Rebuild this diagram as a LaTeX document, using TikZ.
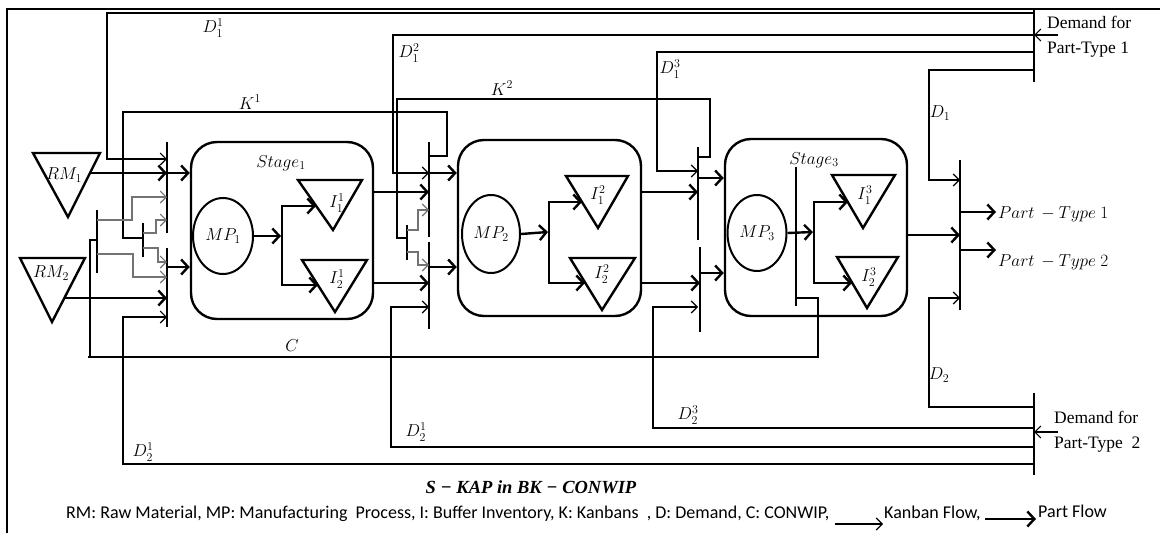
\documentclass[tikz,border=0pt]{standalone}
\usepackage{fontspec}
\setmainfont{Liberation Serif}
\newfontfamily\legfont{Carlito}
\usetikzlibrary{arrows.meta,shapes.geometric}
\begin{document}
\begin{tikzpicture}[x=1pt,y=-1pt,
  thin/.style={line width=1.1pt},
  kan/.style={line width=1.1pt,-{Straight Barb[length=6pt,width=12pt]}},
  kang/.style={kan,draw=black!55},
  part/.style={line width=2.4pt,-{Straight Barb[length=7pt,width=15pt]}},
  thickl/.style={line width=2.4pt},
  stagebox/.style={draw,line width=2.4pt,rounded corners=26pt,minimum width=182pt,minimum height=177pt,inner sep=0pt},
  mp/.style={draw,ellipse,line width=2pt,inner sep=0pt,font=\fontsize{18}{20}\selectfont},
  lab/.style={inner sep=0pt,font=\fontsize{18}{20}\selectfont},
  tri/.style={line width=2.4pt,line join=miter},
  dem/.style={inner sep=0pt,font=\fontsize{17.5}{25}\selectfont,align=left,anchor=west},
  legtext/.style={inner sep=0pt,anchor=west,font=\legfont\fontsize{18}{20}\selectfont}
]
\useasboundingbox (0,0) rectangle (1160,533);
\fill[white] (0,0) rectangle (1160,533);
\draw[line width=2pt] (7,545) -- (7,9) -- (1170,9);

% ---------- stage boxes ----------
\node[stagebox] (S1) at (282,230.5) {};
\node[stagebox,minimum width=183pt,minimum height=176pt] (S2) at (549.5,228) {};
\node[stagebox] (S3) at (816,227.5) {};
\node[lab] (S1lab) at (281,163) {$Stage_1$};
\node[lab] (S3lab) at (814,160) {$Stage_3$};

% ---------- MP ellipses ----------
\node[mp,minimum width=60pt,minimum height=76pt] (MP1) at (223,236) {$MP_1$};
\node[mp,minimum width=58pt,minimum height=78pt] (MP2) at (491,234) {$MP_2$};
\node[mp,minimum width=59pt,minimum height=76pt] (MP3) at (757,233) {$MP_3$};

% ---------- triangles ----------
\draw[tri] (33,153) -- (100,153) -- (68,217) -- cycle;
\node[lab] (RM1) at (64,175) {$RM_1$};
\draw[tri] (20,258) -- (85,258) -- (52,322) -- cycle;
\node[lab] (RM2) at (51,273) {$RM_2$};
\draw[tri] (298,180) -- (362,180) -- (333,230) -- cycle;
\node[lab] (I11) at (337,203) {$I_1^1$};
\draw[tri] (302,260) -- (367,260) -- (335,312) -- cycle;
\node[lab] (I21) at (337,279) {$I_2^1$};
\draw[tri] (566,176) -- (628,176) -- (598,228) -- cycle;
\node[lab] (I12) at (598,195) {$I_1^2$};
\draw[tri] (570,258) -- (635,258) -- (602,310) -- cycle;
\node[lab] (I22) at (602,274) {$I_2^2$};
\draw[tri] (832,175) -- (895,175) -- (863,228) -- cycle;
\node[lab] (I13) at (865,195) {$I_1^3$};
\draw[tri] (837,257) -- (898,257) -- (867,308) -- cycle;
\node[lab] (I23) at (869,277) {$I_2^3$};

% ---------- synchronisation bars ----------
\draw[thin] (167,142) -- (167,233);
\draw[thin] (167,248) -- (167,327);
\draw[thin] (429,142) -- (429,237);
\draw[thin] (429,242) -- (429,329);
\draw[thin] (698,147) -- (698,240);
\draw[thin] (700,247) -- (700,332);
\draw[thin] (960,160) -- (960,310);
\draw[thin] (1034,9) -- (1034,82);
\draw[thin] (1034,393) -- (1034,475);
\draw[thin] (796,167) -- (796,306);

% ---------- part flow ----------
\draw[part] (90,173) -- (167,173);
\draw[part] (64,298) -- (167,298);
\draw[part] (167,173) -- (S1.west |- 0,173);
\draw[part] (167,267) -- (S1.west |- 0,267);
\draw[part] (MP1.east) -- (281,236);
\draw[thickl] (282,206) -- (282,285);
\draw[part] (281,206) -- (316,206);
\draw[part] (281,285) -- (318,285);
\draw[part] (S1.east |- 0,192) -- (429,192);
\draw[part] (S1.east |- 0,283) -- (429,283);
\draw[part] (429,173) -- (S2.west |- 0,173);
\draw[part] (429,267) -- (S2.west |- 0,267);
\draw[part] (MP2.east) -- (548,232);
\draw[thickl] (549,202) -- (549,283);
\draw[part] (548,202) -- (582,202);
\draw[part] (548,283) -- (585,283);
\draw[part] (S2.east |- 0,192) -- (698,192);
\draw[part] (S2.east |- 0,283) -- (700,283);
\draw[part] (698,178) -- (S3.west |- 0,178);
\draw[part] (700,273) -- (S3.west |- 0,273);
\draw[part] (MP3.east) -- (813,232);
\draw[thickl] (814,202) -- (814,283);
\draw[part] (813,202) -- (848,202);
\draw[part] (813,283) -- (852,283);
\draw[part] (S3.east |- 0,235) -- (960,235);
\draw[part] (960,212) -- (996,212);
\draw[part] (960,250) -- (996,250);
\node[lab,anchor=west,font=\fontsize{17}{20}\selectfont] (PT1) at (998,214) {$Part\,-Type\ 1$};
\node[lab,anchor=west,font=\fontsize{17}{20}\selectfont] (PT2) at (998,262) {$Part\,-Type\ 2$};

% ---------- demand for part-type 1 ----------
\node[dem] (dem1) at (1047,37) {Demand for\\Part-Type 1};
\draw[kan] (1058,35) -- (1034,35);
\draw[kan] (1034,13) -- (107,13) -- (107,159) -- (167,159);
\draw[kan] (1034,35) -- (393,35) -- (393,173) -- (429,173);
\draw[kan] (1034,52) -- (657,52) -- (657,171) -- (698,171);
\draw[kan] (1034,70) -- (929,70) -- (929,180) -- (960,180);
\node[lab] (D11) at (213,28) {$D_1^1$};
\node[lab] (D12) at (409,53) {$D_1^2$};
\node[lab] (D13) at (670,69) {$D_1^3$};
\node[lab] (D1) at (940,113) {$D_1$};

% ---------- demand for part-type 2 ----------
\node[dem] (dem2) at (1054,432) {Demand for\\Part-Type\ \ 2};
\draw[kan] (1058,432) -- (1034,432);
\draw[kan] (1034,464) -- (123,464) -- (123,317) -- (167,317);
\draw[kan] (1034,447) -- (391,447) -- (391,307) -- (429,307);
\draw[kan] (1034,428) -- (653,428) -- (653,307) -- (698,307);
\draw[kan] (1034,407) -- (929,407) -- (929,298) -- (960,298);
\node[lab] (D21a) at (143,452) {$D_2^1$};
\node[lab] (D21b) at (416,432) {$D_2^1$};
\node[lab] (D23) at (688,415) {$D_2^3$};
\node[lab] (D2) at (939,375) {$D_2$};

% ---------- kanban K1 ----------
\draw[thin] (430,156) -- (447,156) -- (447,112) -- (123,112) -- (123,238) -- (143,238);
\draw[thin] (143,223) -- (143,257);
\draw[kang] (143,233) -- (156,233) -- (156,220) -- (167,220);
\draw[kang] (143,248) -- (158,248) -- (158,262) -- (167,262);
\node[lab] (K1) at (250,102) {$K^1$};

% ---------- kanban K2 ----------
\draw[thin] (698,157) -- (710,157) -- (710,99) -- (397,99) -- (397,238) -- (407,238);
\draw[thin] (407,225) -- (407,260);
\draw[kang] (407,230) -- (418,230) -- (418,210) -- (429,210);
\draw[kang] (407,252) -- (418,252) -- (418,265) -- (429,265);
\node[lab] (K2) at (502,88) {$K^2$};

% ---------- CONWIP ----------
\draw[thin] (796,298) -- (818,298) -- (818,357) -- (88,357);
\draw[thin] (90,357) -- (90,240) -- (97,240);
\draw[thin] (97,210) -- (97,273);
\draw[kang] (97,220) -- (132,220) -- (132,197) -- (167,197);
\draw[kang] (97,254) -- (133,254) -- (133,277) -- (167,277);
\node[lab] (Clab) at (292,346) {$C$};

% ---------- title and legend ----------
\node[inner sep=0pt,font=\fontsize{18.5}{20}\selectfont\bfseries\itshape] (title) at (531,487) {S − KAP in BK − CONWIP};
\node[legtext] (leg) at (66,514) {RM: Raw Material, MP: Manufacturing\ \ Process, I: Buffer Inventory, K: Kanbans\ \ , D: Demand, C: CONWIP,};
\node[legtext] (kf) at (884,513) {Kanban Flow,};
\node[legtext] (pf) at (1038,511) {Part Flow};
\coordinate (kfa) at (835,524);
\coordinate (kfb) at (883,524);
\draw[kan] (kfa) -- (kfb);
\coordinate (pfa) at (985,519);
\coordinate (pfb) at (1036,519);
\draw[part] (pfa) -- (pfb);
\end{tikzpicture}
\end{document}
